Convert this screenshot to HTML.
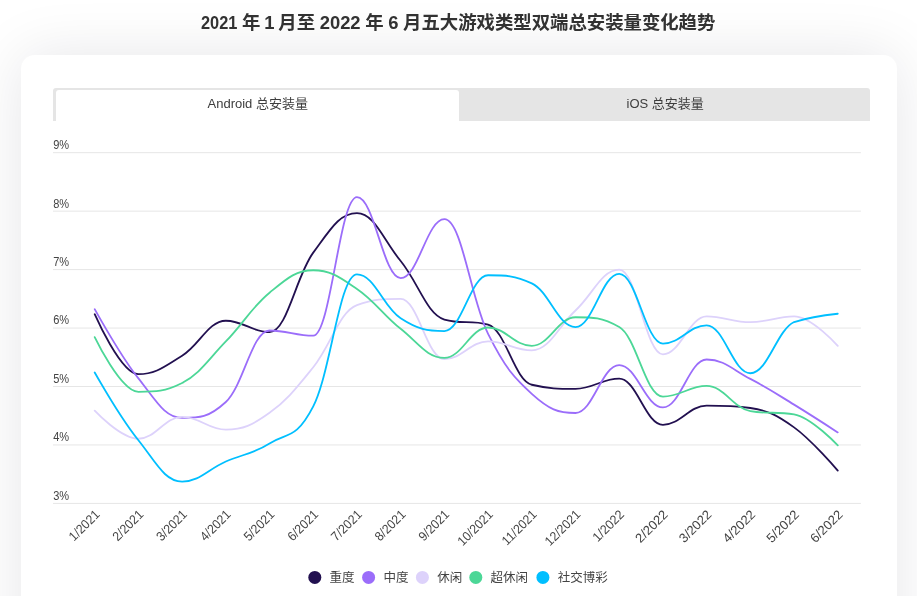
<!DOCTYPE html>
<html lang="zh"><head><meta charset="utf-8"><title>chart</title>
<style>
html,body{margin:0;padding:0;background:#fff;}
body{width:917px;height:596px;overflow:hidden;position:relative;font-family:"Liberation Sans","Noto Sans CJK SC",sans-serif;color:#333;}
.title{position:absolute;left:200.8px;top:10.9px;font-size:18.4px;font-weight:bold;line-height:24px;color:#333;white-space:nowrap;word-spacing:-0.5px;}
.card{position:absolute;left:21px;top:55px;width:876px;height:640px;border-radius:14px;background:#fff;box-shadow:0 0 60px rgba(10,10,40,0.10);}
.title .a{display:inline-block;transform:scaleX(0.89);transform-origin:0 50%;margin-right:-4.5px;}
.title .o{margin:0 -0.8px;}
.title .z{letter-spacing:-0.02px;}
.tabs{position:absolute;left:53px;top:88px;width:817px;height:33px;background:#e5e5e5;border-radius:3px 3px 0 0;}
.tab{position:absolute;top:0;height:33px;line-height:31.5px;font-size:13px;text-align:center;color:#3d3d3d;white-space:nowrap;}
.tab.a{left:2.5px;top:2.2px;width:403.7px;height:31.8px;background:#fff;border-radius:3px 3px 0 0;line-height:27.1px;}
.tab.b{left:406.2px;width:410.8px;}
svg{position:absolute;left:0;top:0;will-change:transform;}
.title,.tab span{will-change:transform;display:inline-block;}
.tab span{padding-left:1.5px;}
.ax{font-size:13px;fill:#444;font-family:"Liberation Sans",sans-serif;}
.lg{font-size:12.5px;fill:#444;font-family:"Liberation Sans","Noto Sans CJK SC",sans-serif;}
</style></head><body>
<div class="title"><span class="a">2021</span> 年 <span class="o">1</span> 月至 2022 年 6 <span class="z">月五大游戏类型双端总安装量变化趋势</span></div>
<div class="card"></div>
<div class="tabs"><div class="tab a"><span>Android 总安装量</span></div><div class="tab b"><span>iOS 总安装量</span></div></div>
<svg width="917" height="596" viewBox="0 0 917 596">
<line x1="53" x2="860.9" y1="503.40" y2="503.40" stroke="#e6e6e6" stroke-width="1"/>
<text transform="translate(53.2 499.80) scale(0.85 1)" class="ax">3%</text>
<line x1="53" x2="860.9" y1="444.95" y2="444.95" stroke="#e6e6e6" stroke-width="1"/>
<text transform="translate(53.2 441.35) scale(0.85 1)" class="ax">4%</text>
<line x1="53" x2="860.9" y1="386.50" y2="386.50" stroke="#e6e6e6" stroke-width="1"/>
<text transform="translate(53.2 382.90) scale(0.85 1)" class="ax">5%</text>
<line x1="53" x2="860.9" y1="328.05" y2="328.05" stroke="#e6e6e6" stroke-width="1"/>
<text transform="translate(53.2 324.45) scale(0.85 1)" class="ax">6%</text>
<line x1="53" x2="860.9" y1="269.60" y2="269.60" stroke="#e6e6e6" stroke-width="1"/>
<text transform="translate(53.2 266.00) scale(0.85 1)" class="ax">7%</text>
<line x1="53" x2="860.9" y1="211.15" y2="211.15" stroke="#e6e6e6" stroke-width="1"/>
<text transform="translate(53.2 207.55) scale(0.85 1)" class="ax">8%</text>
<line x1="53" x2="860.9" y1="152.70" y2="152.70" stroke="#e6e6e6" stroke-width="1"/>
<text transform="translate(53.2 149.10) scale(0.85 1)" class="ax">9%</text>
<path d="M94.70 314.20 C94.70 314.20 120.93 374.17 138.41 374.17 C155.89 374.17 164.64 366.44 182.12 355.76 C199.60 345.07 208.35 320.74 225.83 320.74 C243.31 320.74 252.06 332.14 269.54 332.14 C287.02 332.14 295.77 276.45 313.25 252.65 C330.73 228.85 339.48 213.14 356.96 213.14 C374.44 213.14 383.19 239.73 400.67 261.01 C418.15 282.28 426.90 314.49 444.38 319.52 C461.86 324.54 470.61 319.52 488.09 324.54 C505.57 329.57 514.32 380.65 531.80 384.75 C549.28 388.84 558.03 388.84 575.51 388.84 C592.99 388.84 601.74 378.67 619.22 378.67 C636.70 378.67 645.45 424.78 662.93 424.78 C680.41 424.78 689.16 405.61 706.64 405.61 C724.12 405.61 732.87 405.61 750.35 408.01 C767.83 410.41 776.58 414.85 794.06 427.36 C811.54 439.86 837.77 470.55 837.77 470.55" fill="none" stroke="#221050" stroke-width="1.8" stroke-linecap="round" stroke-linejoin="round"/>
<path d="M94.70 309.17 C94.70 309.17 120.93 356.68 138.41 378.43 C155.89 400.19 164.64 417.95 182.12 417.95 C199.60 417.95 208.35 417.95 225.83 401.99 C243.31 386.03 252.06 330.50 269.54 330.50 C287.02 330.50 295.77 335.65 313.25 335.65 C330.73 335.65 339.48 197.12 356.96 197.12 C374.44 197.12 383.19 278.13 400.67 278.13 C418.15 278.13 426.90 219.16 444.38 219.16 C461.86 219.16 470.61 298.97 488.09 333.89 C505.57 368.82 514.32 377.99 531.80 393.81 C549.28 409.62 558.03 412.98 575.51 412.98 C592.99 412.98 601.74 365.11 619.22 365.11 C636.70 365.11 645.45 407.43 662.93 407.43 C680.41 407.43 689.16 359.50 706.64 359.50 C724.12 359.50 732.87 369.88 750.35 378.90 C767.83 387.93 776.58 393.92 794.06 404.62 C811.54 415.32 837.77 432.38 837.77 432.38" fill="none" stroke="#9b6dfa" stroke-width="1.8" stroke-linecap="round" stroke-linejoin="round"/>
<path d="M94.70 410.70 C94.70 410.70 120.93 438.75 138.41 438.75 C155.89 438.75 164.64 416.78 182.12 416.78 C199.60 416.78 208.35 429.64 225.83 429.64 C243.31 429.64 252.06 425.29 269.54 412.80 C287.02 400.32 295.77 388.74 313.25 367.21 C330.73 345.68 339.48 311.33 356.96 305.14 C374.44 298.94 383.19 298.94 400.67 298.94 C418.15 298.94 426.90 359.15 444.38 359.15 C461.86 359.15 470.61 341.38 488.09 341.38 C505.57 341.38 514.32 350.38 531.80 350.38 C549.28 350.38 558.03 326.67 575.51 310.51 C592.99 294.36 601.74 269.60 619.22 269.60 C636.70 269.60 645.45 354.41 662.93 354.41 C680.41 354.41 689.16 316.36 706.64 316.36 C724.12 316.36 732.87 322.20 750.35 322.20 C767.83 322.20 776.58 316.36 794.06 316.36 C811.54 316.36 837.77 345.88 837.77 345.88" fill="none" stroke="#ddd2fb" stroke-width="1.8" stroke-linecap="round" stroke-linejoin="round"/>
<path d="M94.70 337.11 C94.70 337.11 120.93 391.82 138.41 391.82 C155.89 391.82 164.64 391.82 182.12 382.99 C199.60 374.17 208.35 359.55 225.83 341.49 C243.31 323.43 252.06 306.94 269.54 292.69 C287.02 278.44 295.77 270.24 313.25 270.24 C330.73 270.24 339.48 277.18 356.96 288.89 C374.44 300.60 383.19 315.00 400.67 328.81 C418.15 342.62 426.90 357.92 444.38 357.92 C461.86 357.92 470.61 327.52 488.09 327.52 C505.57 327.52 514.32 345.88 531.80 345.88 C549.28 345.88 558.03 317.24 575.51 317.24 C592.99 317.24 601.74 317.24 619.22 327.06 C636.70 336.88 645.45 396.61 662.93 396.61 C680.41 396.61 689.16 385.97 706.64 385.97 C724.12 385.97 732.87 408.01 750.35 411.17 C767.83 414.32 776.58 411.17 794.06 414.32 C811.54 417.48 837.77 445.42 837.77 445.42" fill="none" stroke="#4cd797" stroke-width="1.8" stroke-linecap="round" stroke-linejoin="round"/>
<path d="M94.70 372.47 C94.70 372.47 120.93 418.45 138.41 440.27 C155.89 462.10 164.64 481.60 182.12 481.60 C199.60 481.60 208.35 469.12 225.83 461.49 C243.31 453.86 252.06 454.45 269.54 443.43 C287.02 432.41 295.77 440.18 313.25 406.37 C330.73 372.57 339.48 274.39 356.96 274.39 C374.44 274.39 383.19 306.95 400.67 318.29 C418.15 329.63 426.90 331.09 444.38 331.09 C461.86 331.09 470.61 275.27 488.09 275.27 C505.57 275.27 514.32 275.27 531.80 283.34 C549.28 291.40 558.03 327.06 575.51 327.06 C592.99 327.06 601.74 273.81 619.22 273.81 C636.70 273.81 645.45 343.60 662.93 343.60 C680.41 343.60 689.16 325.30 706.64 325.30 C724.12 325.30 732.87 373.23 750.35 373.23 C767.83 373.23 776.58 330.33 794.06 322.03 C811.54 316.50 837.77 313.73 837.77 313.73" fill="none" stroke="#00bfff" stroke-width="1.8" stroke-linecap="round" stroke-linejoin="round"/>
<text transform="translate(100.50 515.3) rotate(-45) scale(0.94 1)" text-anchor="end" class="ax">1/2021</text>
<text transform="translate(144.21 515.3) rotate(-45) scale(0.94 1)" text-anchor="end" class="ax">2/2021</text>
<text transform="translate(187.92 515.3) rotate(-45) scale(0.94 1)" text-anchor="end" class="ax">3/2021</text>
<text transform="translate(231.63 515.3) rotate(-45) scale(0.94 1)" text-anchor="end" class="ax">4/2021</text>
<text transform="translate(275.34 515.3) rotate(-45) scale(0.94 1)" text-anchor="end" class="ax">5/2021</text>
<text transform="translate(319.05 515.3) rotate(-45) scale(0.94 1)" text-anchor="end" class="ax">6/2021</text>
<text transform="translate(362.76 515.3) rotate(-45) scale(0.94 1)" text-anchor="end" class="ax">7/2021</text>
<text transform="translate(406.47 515.3) rotate(-45) scale(0.94 1)" text-anchor="end" class="ax">8/2021</text>
<text transform="translate(450.18 515.3) rotate(-45) scale(0.94 1)" text-anchor="end" class="ax">9/2021</text>
<text transform="translate(493.89 515.3) rotate(-45) scale(0.94 1)" text-anchor="end" class="ax">10/2021</text>
<text transform="translate(537.60 515.3) rotate(-45) scale(0.94 1)" text-anchor="end" class="ax">11/2021</text>
<text transform="translate(581.31 515.3) rotate(-45) scale(0.94 1)" text-anchor="end" class="ax">12/2021</text>
<text transform="translate(625.02 515.3) rotate(-45) scale(0.97 1)" text-anchor="end" class="ax">1/2022</text>
<text transform="translate(668.73 515.3) rotate(-45) scale(1.0 1)" text-anchor="end" class="ax">2/2022</text>
<text transform="translate(712.44 515.3) rotate(-45) scale(1.0 1)" text-anchor="end" class="ax">3/2022</text>
<text transform="translate(756.15 515.3) rotate(-45) scale(1.0 1)" text-anchor="end" class="ax">4/2022</text>
<text transform="translate(799.86 515.3) rotate(-45) scale(1.0 1)" text-anchor="end" class="ax">5/2022</text>
<text transform="translate(843.57 515.3) rotate(-45) scale(1.0 1)" text-anchor="end" class="ax">6/2022</text>
<circle cx="314.8" cy="577.4" r="6.5" fill="#221050"/>
<text x="329.6" y="581.7" class="lg">重度</text>
<circle cx="368.6" cy="577.4" r="6.5" fill="#9b6dfa"/>
<text x="383.40000000000003" y="581.7" class="lg">中度</text>
<circle cx="422.4" cy="577.4" r="6.5" fill="#ddd2fb"/>
<text x="437.2" y="581.7" class="lg">休闲</text>
<circle cx="475.8" cy="577.4" r="6.5" fill="#4cd797"/>
<text x="490.6" y="581.7" class="lg">超休闲</text>
<circle cx="542.9" cy="577.4" r="6.5" fill="#00bfff"/>
<text x="557.6999999999999" y="581.7" class="lg">社交博彩</text>
</svg>
</body></html>
